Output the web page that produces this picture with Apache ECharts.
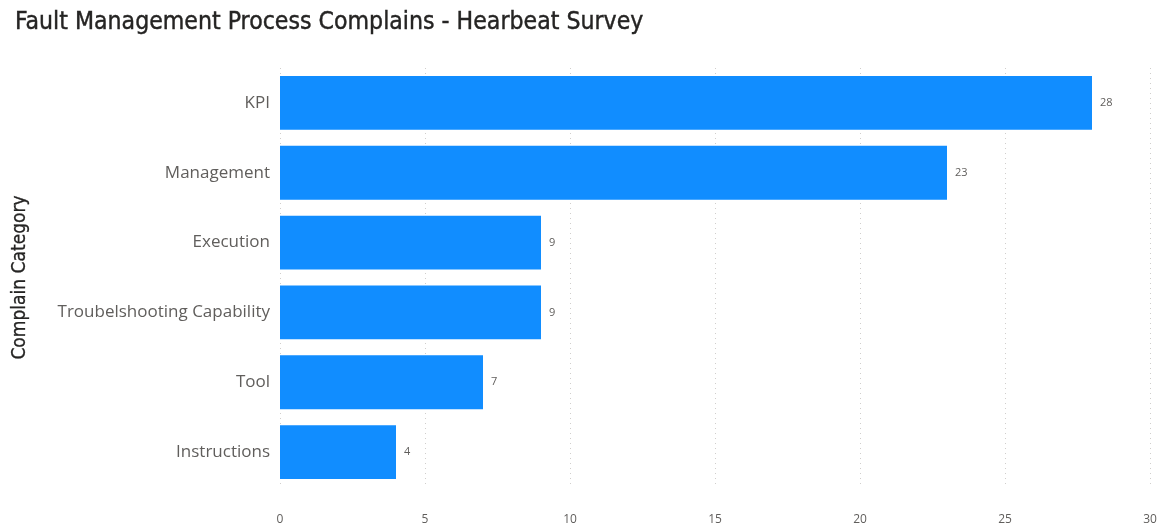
<!DOCTYPE html>
<html><head><meta charset="utf-8">
<script src="https://cdn.jsdelivr.net/npm/echarts@6/dist/echarts.min.js"></script>
<style>html,body{margin:0;padding:0;background:#fff}#c{width:1173px;height:526px}</style>
</head><body><div id="c"></div>
<script>
const categories = ["KPI","Management","Execution","Troubelshooting Capability","Tool","Instructions"];
const values = [28,23,9,9,7,4];
const xTicks = [0,5,10,15,20,25,30];

const chart = echarts.init(document.getElementById('c'));
chart.setOption({
  animation:false,
  title:{text:"Fault Management Process Complains - Hearbeat Survey",left:10,top:5,
    textStyle:{fontFamily:"DejaVu Sans Condensed",fontSize:24.6,fontWeight:'normal',color:'#252423',
      textBorderColor:'#252423',textBorderWidth:0.4}},
  grid:{left:280,right:23,top:68,bottom:39,containLabel:false},
  xAxis:{type:'value',min:xTicks[0],max:xTicks[xTicks.length-1],interval:5,
    axisLine:{show:false},axisTick:{show:false},
    axisLabel:{color:'#605E5C',fontFamily:'Open Sans',fontSize:12,margin:27},
    splitLine:{show:true,lineStyle:{type:[1,4],color:'#D0CECC',width:1}}},
  yAxis:{type:'category',data:categories,inverse:true,
    axisLine:{show:false},axisTick:{show:false},
    axisLabel:{color:'#605E5C',fontFamily:'Open Sans',fontSize:17,margin:10},
    name:'Complain Category',nameLocation:'middle',nameGap:250,nameRotate:90,
    nameTextStyle:{color:'#252423',fontFamily:'DejaVu Sans Condensed',fontSize:19,
      textBorderColor:'#252423',textBorderWidth:0.3}},
  series:[{type:'bar',data:values,barCategoryGap:'23%',
    itemStyle:{color:'#118DFF'},
    label:{show:true,position:'right',distance:8,color:'#605E5C',fontFamily:'Open Sans',fontSize:11}}]
});
</script></body></html>
